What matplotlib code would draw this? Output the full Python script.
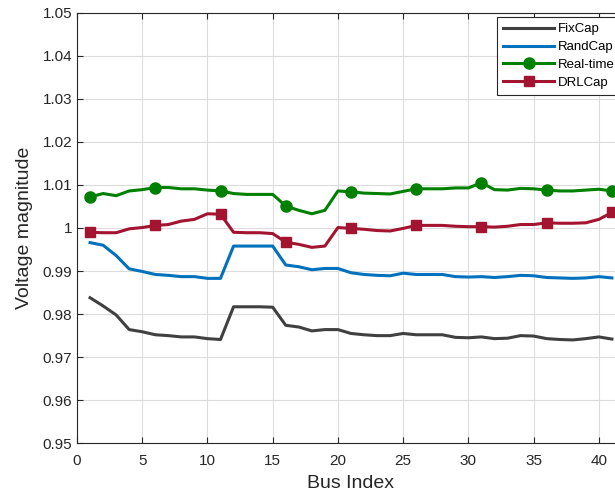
import numpy as np
import matplotlib.pyplot as plt

plt.rcParams['font.family'] = ['Liberation Sans', 'DejaVu Sans']

bus = np.arange(1, 42)

fixcap = [0.9838, 0.9819, 0.9798, 0.9764, 0.9759, 0.9752, 0.9750, 0.9747, 0.9747, 0.9743,
          0.9741, 0.9817, 0.9817, 0.9817, 0.9816, 0.9774, 0.9770, 0.9761, 0.9764, 0.9764,
          0.9755, 0.9752, 0.9750, 0.9750, 0.9755, 0.9752, 0.9752, 0.9752, 0.9746, 0.9745,
          0.9747, 0.9743, 0.9744, 0.9750, 0.9749, 0.9743, 0.9741, 0.9740, 0.9743, 0.9747,
          0.9742]
randcap = [0.9966, 0.9960, 0.9936, 0.9905, 0.9899, 0.9892, 0.9890, 0.9887, 0.9887, 0.9883,
           0.9883, 0.9958, 0.9958, 0.9958, 0.9958, 0.9914, 0.9910, 0.9903, 0.9906, 0.9906,
           0.9896, 0.9892, 0.9890, 0.9889, 0.9895, 0.9892, 0.9892, 0.9892, 0.9887, 0.9886,
           0.9887, 0.9885, 0.9887, 0.9890, 0.9889, 0.9885, 0.9884, 0.9883, 0.9884, 0.9887,
           0.9884]
realtime = [1.0072, 1.0080, 1.0075, 1.0086, 1.0089, 1.0094, 1.0094, 1.0091, 1.0091, 1.0088,
            1.0086, 1.0080, 1.0078, 1.0078, 1.0078, 1.0051, 1.0041, 1.0033, 1.0041, 1.0086,
            1.0084, 1.0081, 1.0080, 1.0079, 1.0085, 1.0091, 1.0091, 1.0091, 1.0093, 1.0093,
            1.0105, 1.0089, 1.0088, 1.0092, 1.0091, 1.0088, 1.0086, 1.0086, 1.0088, 1.0090,
            1.0086]
drlcap = [0.9990, 0.9989, 0.9989, 0.9998, 1.0001, 1.0006, 1.0008, 1.0016, 1.0020, 1.0033,
          1.0032, 0.9990, 0.9989, 0.9989, 0.9987, 0.9967, 0.9962, 0.9955, 0.9958, 1.0001,
          0.9999, 0.9997, 0.9994, 0.9993, 0.9999, 1.0006, 1.0006, 1.0006, 1.0004, 1.0003,
          1.0003, 1.0002, 1.0004, 1.0008, 1.0008, 1.0012, 1.0011, 1.0011, 1.0012, 1.0020,
          1.0036]

fig = plt.figure(figsize=(6.15, 4.94), dpi=100)
# the right edge of the axes runs a little past the picture, as in the original
ax = fig.add_axes([0.1252, 0.1027, 0.891, 0.8716])

ax.plot(bus, fixcap, color='#404040', lw=2.2, label='FixCap')
ax.plot(bus, randcap, color='#0072BD', lw=2.2, label='RandCap')
ax.plot(bus, realtime, color='#008000', lw=2.2, marker='o', ms=8,
        markevery=5, label='Real-time')
ax.plot(bus, drlcap, color='#A2142F', lw=2.2, marker='s', ms=7,
        markevery=5, label='DRLCap')

ax.set_xlim(0, 42)
ax.set_ylim(0.95, 1.05)
ax.set_xticks(np.arange(0, 41, 5))
ax.set_yticks(np.arange(0.95, 1.0501, 0.01))
ax.set_yticklabels(['0.95', '0.96', '0.97', '0.98', '0.99', '1', '1.01',
                    '1.02', '1.03', '1.04', '1.05'])
ax.grid(True, color='#dcdcdc', lw=0.8)
ax.tick_params(direction='in', top=True, right=True, labelsize=11,
               colors='#262626', length=4)
ax.tick_params(axis='x', pad=8)
for s in ax.spines.values():
    s.set_color('#262626')
ax.set_xlabel('Bus Index', fontsize=14, color='#262626', labelpad=5)
ax.set_ylabel('Voltage magnitude', fontsize=14, color='#262626', labelpad=7)

leg = ax.legend(loc='upper right', fontsize=9.5, fancybox=False,
                edgecolor='#262626', framealpha=1, borderpad=0.45,
                handlelength=3.9, handletextpad=0.25, labelspacing=0.42,
                borderaxespad=0.35)
leg.get_frame().set_linewidth(0.8)

fig.savefig('out.png', dpi=100)
